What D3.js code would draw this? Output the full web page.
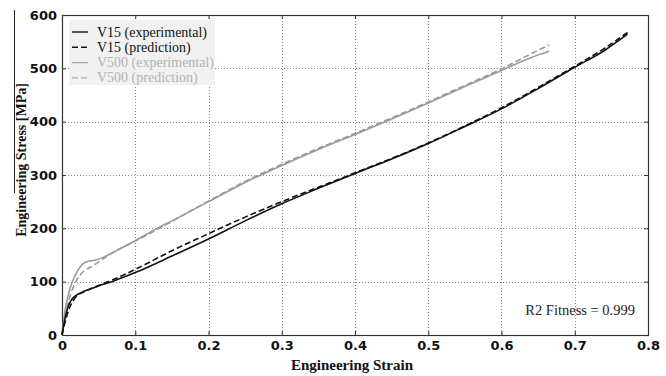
<!DOCTYPE html>
<html>
<head>
<meta charset="utf-8">
<script src="https://cdn.jsdelivr.net/npm/d3@7"></script>
<style>
  html, body { margin: 0; padding: 0; background: #fff; }
  svg { display: block; }
</style>
</head>
<body>
<svg id="chart" width="666" height="376"></svg>
<script>
// Stress-strain data: [engineering strain, engineering stress (MPa)]
const v15Experimental = [
  [0, 0], [0.004, 30], [0.008, 52], [0.012, 64], [0.016, 71], [0.02, 75],
  [0.03, 82], [0.04, 87], [0.05, 92], [0.07, 101], [0.1, 117], [0.15, 148],
  [0.2, 180], [0.25, 214], [0.3, 246], [0.35, 275], [0.4, 303], [0.45, 330],
  [0.5, 359], [0.55, 391], [0.6, 424], [0.65, 462], [0.7, 502], [0.74, 533],
  [0.772, 564]
];
const v15Prediction = [
  [0, 0], [0.005, 28], [0.01, 50], [0.015, 64], [0.02, 73], [0.03, 81],
  [0.04, 87], [0.05, 93], [0.07, 104], [0.1, 123], [0.15, 158], [0.2, 190],
  [0.25, 221], [0.3, 250], [0.35, 277], [0.4, 304], [0.45, 331], [0.5, 360],
  [0.55, 392], [0.6, 426], [0.65, 464], [0.7, 504], [0.74, 537], [0.775, 570]
];
const v500Experimental = [
  [0, 0], [0.004, 45], [0.008, 72], [0.012, 92], [0.016, 106], [0.02, 117],
  [0.025, 128], [0.03, 135], [0.035, 138], [0.045, 140], [0.055, 145],
  [0.07, 155], [0.1, 177], [0.13, 200], [0.15, 214], [0.2, 250], [0.25, 286],
  [0.3, 318], [0.35, 348], [0.4, 376], [0.45, 405], [0.5, 435], [0.55, 466],
  [0.6, 496], [0.64, 520], [0.665, 532]
];
const v500Prediction = [
  [0, 0], [0.005, 40], [0.01, 68], [0.015, 88], [0.02, 103], [0.025, 113],
  [0.03, 120], [0.04, 128], [0.05, 137], [0.06, 146], [0.07, 155], [0.1, 176],
  [0.15, 213], [0.2, 251], [0.25, 288], [0.3, 320], [0.35, 350], [0.4, 378],
  [0.45, 407], [0.5, 437], [0.55, 468], [0.6, 499], [0.64, 527], [0.665, 544]
];

const xTicks = [0, 0.1, 0.2, 0.3, 0.4, 0.5, 0.6, 0.7, 0.8];
const yTicks = [0, 100, 200, 300, 400, 500, 600];
const seriesNames = ["V15 (experimental)", "V15 (prediction)", "V500 (experimental)", "V500 (prediction)"];
const fitnessLabel = "R2 Fitness = 0.999";

const svg = d3.select("#chart");
const plot = { left: 62, right: 648, top: 15, bottom: 335 };

const x = d3.scaleLinear().domain([0, 0.8]).range([plot.left, plot.right]);
const y = d3.scaleLinear().domain([0, 600]).range([plot.bottom, plot.top]);

// Dotted grid
const grid = svg.append("g").attr("stroke", "#8a8a8a").attr("stroke-width", 1)
  .attr("stroke-dasharray", "1,2");
grid.selectAll("line.vx").data(xTicks.slice(1, -1)).join("line")
  .attr("x1", d => Math.round(x(d)) + 0.5).attr("x2", d => Math.round(x(d)) + 0.5)
  .attr("y1", plot.top).attr("y2", plot.bottom);
grid.selectAll("line.hy").data(yTicks.slice(1, -1)).join("line")
  .attr("x1", plot.left).attr("x2", plot.right)
  .attr("y1", d => Math.round(y(d)) + 0.5).attr("y2", d => Math.round(y(d)) + 0.5);

// Axes with inward ticks on all four sides
const fontTick = "'DejaVu Sans', Verdana, sans-serif";
const bottomAxis = svg.append("g").attr("transform", `translate(0,${plot.bottom})`)
  .call(d3.axisBottom(x).tickValues(xTicks).tickSizeInner(-4).tickSizeOuter(0).tickPadding(6)
    .tickFormat(d => d === 0 ? "0" : d3.format(".1f")(d)));
const leftAxis = svg.append("g").attr("transform", `translate(${plot.left},0)`)
  .call(d3.axisLeft(y).tickValues(yTicks).tickSizeInner(-4).tickSizeOuter(0).tickPadding(5));
const topAxis = svg.append("g").attr("transform", `translate(0,${plot.top})`)
  .call(d3.axisTop(x).tickValues(xTicks).tickSizeInner(-4).tickSizeOuter(0).tickFormat(""));
const rightAxis = svg.append("g").attr("transform", `translate(${plot.right},0)`)
  .call(d3.axisRight(y).tickValues(yTicks).tickSizeInner(-4).tickSizeOuter(0).tickFormat(""));

[bottomAxis, leftAxis, topAxis, rightAxis].forEach(a => {
  a.select(".domain").remove();
  a.selectAll(".tick line").attr("stroke", "#333");
  a.selectAll(".tick text").attr("font-family", fontTick).attr("font-weight", "bold")
    .attr("font-size", 13).attr("fill", "#111");
});
bottomAxis.selectAll(".tick text").attr("dy", "0.71em");

// Frame
svg.append("rect")
  .attr("x", plot.left + 0.5).attr("y", plot.top + 0.5)
  .attr("width", plot.right - plot.left).attr("height", plot.bottom - plot.top)
  .attr("fill", "none").attr("stroke", "#333").attr("stroke-width", 1.2);

// Curves
const line = d3.line().curve(d3.curveMonotoneX).x(d => x(d[0])).y(d => y(d[1]));
const series = [
  { data: v500Experimental, color: "#9a9a9a", dash: null },
  { data: v500Prediction, color: "#9a9a9a", dash: "6,3" },
  { data: v15Experimental, color: "#111", dash: null },
  { data: v15Prediction, color: "#111", dash: "6,3" }
];
svg.append("g").selectAll("path").data(series).join("path")
  .attr("d", d => line(d.data))
  .attr("fill", "none")
  .attr("stroke", d => d.color)
  .attr("stroke-width", 1.6)
  .attr("stroke-dasharray", d => d.dash);

// Legend
const legendStyles = [
  { color: "#111", dash: null, text: "#111" },
  { color: "#111", dash: "6,3", text: "#111" },
  { color: "#aaa", dash: null, text: "#b3b3b3" },
  { color: "#aaa", dash: "6,3", text: "#b3b3b3" }
];
const legend = svg.append("g");
legend.append("rect").attr("x", 69).attr("y", 20).attr("width", 146).attr("height", 65)
  .attr("fill", "#f1f1f1");
const rows = legend.selectAll("g").data(seriesNames).join("g")
  .attr("transform", (d, i) => `translate(0,${32 + i * 15.3})`);
rows.append("line").attr("x1", 72).attr("x2", 88).attr("y1", 0).attr("y2", 0)
  .attr("stroke", (d, i) => legendStyles[i].color).attr("stroke-width", 1.4)
  .attr("stroke-dasharray", (d, i) => legendStyles[i].dash);
rows.append("text").attr("x", 97).attr("y", 4.5).text(d => d)
  .attr("font-family", "'Liberation Serif', 'Times New Roman', serif")
  .attr("font-size", 14).attr("fill", (d, i) => legendStyles[i].text);

// Fitness annotation
svg.append("text").attr("x", 635).attr("y", 315).attr("text-anchor", "end")
  .attr("font-family", "'Liberation Serif', 'Times New Roman', serif")
  .attr("font-size", 14.5).attr("fill", "#222").text(fitnessLabel);

// Axis titles
svg.append("text").attr("x", 352).attr("y", 370).attr("text-anchor", "middle")
  .attr("font-family", "'Liberation Serif', 'Times New Roman', serif")
  .attr("font-weight", "bold").attr("font-size", 15).attr("fill", "#111")
  .text("Engineering Strain");
svg.append("text").attr("transform", "translate(26,160) rotate(-90)")
  .attr("text-anchor", "middle")
  .attr("font-family", "'Liberation Serif', 'Times New Roman', serif")
  .attr("font-weight", "bold").attr("font-size", 14).attr("fill", "#111")
  .text("Engineering Stress [MPa]");

// Thin rule at the far left
svg.append("line").attr("x1", 14.5).attr("x2", 14.5).attr("y1", 10).attr("y2", 193)
  .attr("stroke", "#222").attr("stroke-width", 1);
</script>
</body>
</html>
